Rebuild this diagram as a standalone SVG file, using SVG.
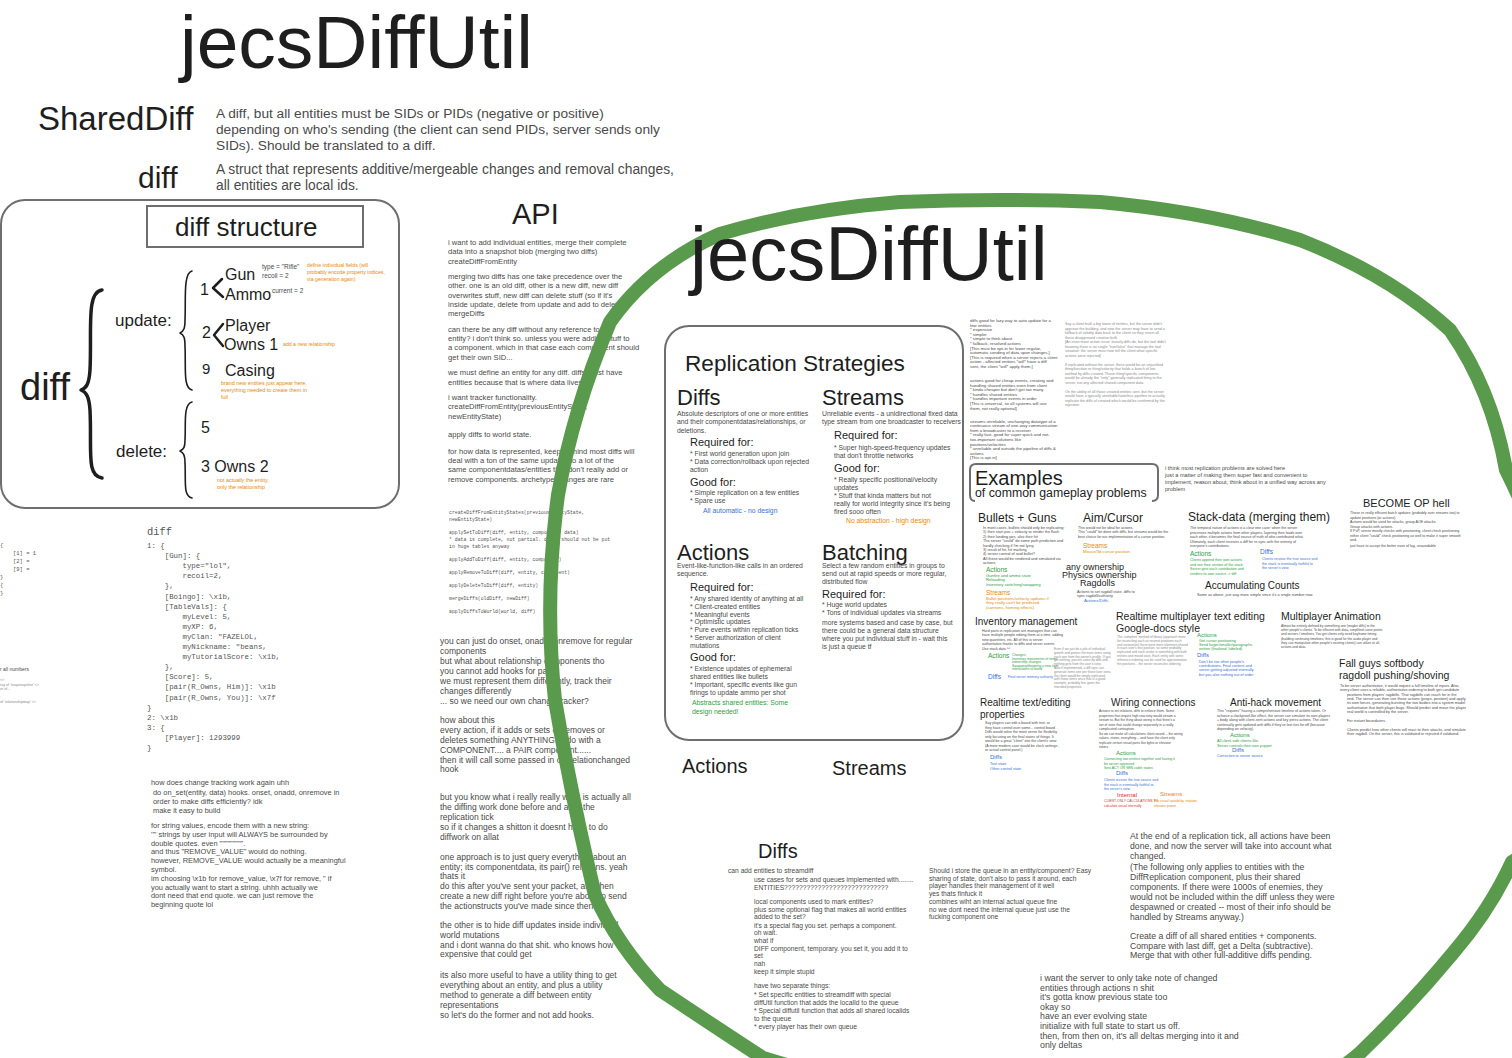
<svg xmlns="http://www.w3.org/2000/svg" width="1512" height="1058" viewBox="0 0 1512 1058">
<style>
text{font-family:"Liberation Sans",Arial,sans-serif;fill:#1e1e1e}
.s{fill:#4a4a4a}
.lt{fill:#8a8a8a}
.m{font-family:"Liberation Mono","DejaVu Sans Mono",monospace;fill:#555}
.or{fill:#e8890c}
.bl{fill:#3b6fd4}
.gr{fill:#2f9e44}
.rd{fill:#d9302c}
.box{fill:none;stroke:#6e6e6e;stroke-width:2}
.br{fill:none;stroke:#1e1e1e;stroke-linecap:round;stroke-linejoin:round}
</style>
<rect width="1512" height="1058" fill="#ffffff"/>

<g id="title">
<text x="180" y="68" font-size="75">jecsDiffUtil</text>
</g>

<g id="definitions">
<text x="38" y="130" font-size="33">SharedDiff</text>
<text x="216" y="118" font-size="13.7" class="s"><tspan x="216">A diff, but all entities must be SIDs or PIDs (negative or positive)</tspan><tspan x="216" dy="16">depending on who's sending (the client can send PIDs, server sends only</tspan><tspan x="216" dy="16">SIDs). Should be translated to a diff.</tspan></text>
<text x="138" y="188" font-size="30">diff</text>
<text x="216" y="174" font-size="13.8" class="s"><tspan x="216">A struct that represents additive/mergeable changes and removal changes,</tspan><tspan x="216" dy="15.5">all entities are local ids.</tspan></text>
</g>

<g id="diff-structure">
<rect x="1" y="200" width="398" height="308" rx="24" class="box"/>
<rect x="147" y="206" width="216" height="41" class="box" stroke-width="1.5"/>
<text x="175" y="236" font-size="26">diff structure</text>
<text x="20" y="400" font-size="38">diff</text>
<path d="M102 290 C86 292 92 330 90 370 C89 385 86 388 81 390 C86 392 89 396 90 410 C92 450 86 476 102 478" class="br" stroke-width="3.5"/>
<text x="115" y="326" font-size="17">update:</text>
<text x="116" y="457" font-size="17">delete:</text>
<path d="M192 271 C183 273 186 300 185 320 C185 328 184 331 180 333 C184 335 185 338 185 346 C186 368 183 388 192 390" class="br" stroke-width="1.6"/>
<path d="M192 402 C183 404 186 425 185 440 C185 447 184 449 180 451 C184 453 185 456 185 463 C186 482 183 496 192 498" class="br" stroke-width="1.6"/>
<text x="200" y="295" font-size="16">1</text>
<path d="M222 279 L213 288 L223 297" class="br" stroke-width="2.5"/>
<text x="225" y="280" font-size="16">Gun</text>
<text x="225" y="300" font-size="16">Ammo</text>
<text x="262" y="269" font-size="6.5" class="s">type = "Rifle"</text>
<text x="262" y="278" font-size="6.5" class="s">recoil = 2</text>
<text x="272" y="293" font-size="6.5" class="s">current = 2</text>
<text x="307" y="267" font-size="5.2" class="or"><tspan x="307">define individual fields (will</tspan><tspan x="307" dy="7">probably encode property indices,</tspan><tspan x="307" dy="7">via generation again)</tspan></text>
<text x="202" y="338" font-size="16">2</text>
<path d="M223 324 L214 335 L223 346" class="br" stroke-width="2.5"/>
<text x="225" y="331" font-size="16">Player</text>
<text x="224" y="350" font-size="16">Owns 1</text>
<text x="283" y="346" font-size="5.2" class="or">add a new relationship</text>
<text x="202" y="374" font-size="15">9</text>
<text x="225" y="376" font-size="16">Casing</text>
<text x="221" y="385" font-size="5.4" class="or"><tspan x="221">brand new entities just appear here,</tspan><tspan x="221" dy="7">everything needed to create them in</tspan><tspan x="221" dy="7">full</tspan></text>
<text x="201" y="433" font-size="16">5</text>
<text x="201" y="472" font-size="16">3 Owns 2</text>
<text x="217" y="482" font-size="5.4" class="or"><tspan x="217">not actually the entity,</tspan><tspan x="217" dy="7">only the relationship</tspan></text>
</g>

<g id="left-fragments">
<text x="0" y="547" font-size="5.5" class="m"><tspan x="0">{</tspan><tspan x="13" dy="8">[1] = 1</tspan><tspan x="13" dy="8">[2] =</tspan><tspan x="13" dy="8">[9] =</tspan><tspan x="0" dy="8">}</tspan><tspan x="0" dy="8">{</tspan><tspan x="0" dy="8">}</tspan></text>
<text x="0" y="671" font-size="5" class="s">r all numbers</text>
<text x="0" y="681" font-size="3.6" class="lt"><tspan x="0">&lt;&gt;</tspan><tspan x="0" dy="4.5">ray of 'snapsnapshot' &lt;&gt;</tspan><tspan x="0" dy="4.5">or of...</tspan><tspan x="0" dy="8">:</tspan><tspan x="0" dy="4.5">of 'relationshipmap' &lt;&gt;</tspan></text>
</g>

<g id="code-diff">
<text x="147" y="535" font-size="10.4" class="m">diff</text>
<text x="147" y="548" font-size="7.4" class="m" xml:space="preserve"><tspan x="147">1: {</tspan><tspan x="147" dy="10.1">    [Gun]: {</tspan><tspan x="147" dy="10.1">        type="lol",</tspan><tspan x="147" dy="10.1">        recoil=2,</tspan><tspan x="147" dy="10.1">    },</tspan><tspan x="147" dy="10.1">    [Boingo]: \x1b,</tspan><tspan x="147" dy="10.1">    [TableVals]: {</tspan><tspan x="147" dy="10.1">        myLevel: 5,</tspan><tspan x="147" dy="10.1">        myXP: 6,</tspan><tspan x="147" dy="10.1">        myClan: "FAZELOL,</tspan><tspan x="147" dy="10.1">        myNickname: "beans,</tspan><tspan x="147" dy="10.1">        myTutorialScore: \x1b,</tspan><tspan x="147" dy="10.1">    },</tspan><tspan x="147" dy="10.1">    [Score]: 5,</tspan><tspan x="147" dy="10.1">    [pair(R_Owns, Him)]: \x1b</tspan><tspan x="147" dy="10.1">    [pair(R_Owns, You)]: \x7f</tspan><tspan x="147" dy="10.1">}</tspan><tspan x="147" dy="10.1">2: \x1b</tspan><tspan x="147" dy="10.1">3: {</tspan><tspan x="147" dy="10.1">    [Player]: 1293999</tspan><tspan x="147" dy="10.1">}</tspan></text>
</g>

<g id="change-tracking-notes">
<text x="151" y="785" font-size="7.4" class="s"><tspan x="151">how does change tracking work again uhh</tspan><tspan x="153" dy="10">do on_set(entity, data) hooks. onset, onadd, onremove in</tspan><tspan x="153" dy="9">order to make diffs efficiently? idk</tspan><tspan x="153" dy="9">make it easy to build</tspan><tspan x="151" dy="15">for string values, encode them with a new string:</tspan><tspan x="151" dy="8.8">'"' strings by user input will ALWAYS be surrounded by</tspan><tspan x="151" dy="8.8">double quotes. even """"""""".</tspan><tspan x="151" dy="8.8">and thus "REMOVE_VALUE" would do nothing.</tspan><tspan x="151" dy="8.8">however,  REMOVE_VALUE would actually be a meaningful</tspan><tspan x="151" dy="8.8">symbol.</tspan><tspan x="151" dy="8.8">im choosing \x1b for remove_value, \x7f for remove, " if</tspan><tspan x="151" dy="8.8">you actually want to start a string. uhhh actually we</tspan><tspan x="151" dy="8.8">dont need that end quote. we can just remove the</tspan><tspan x="151" dy="8.8">beginning quote lol</tspan></text>
</g>

<g id="api">
<text x="512" y="224" font-size="29">API</text>
<text x="448" y="245" font-size="7.6" class="s"><tspan x="448">i want to add individual entities, merge their complete</tspan><tspan x="448" dy="9.3">data into a snapshot blob (merging two diffs)</tspan><tspan x="448" dy="9.3">createDiffFromEntity</tspan><tspan x="448" dy="15.5">merging two diffs has one take precedence over the</tspan><tspan x="448" dy="9.3">other. one is an old diff, other is a new diff, new diff</tspan><tspan x="448" dy="9.3">overwrites stuff, new diff can delete stuff (so if it's</tspan><tspan x="448" dy="9.3">inside update, delete from update and add to delete)</tspan><tspan x="448" dy="9.3">mergeDiffs</tspan><tspan x="448" dy="15.5">can there be any diff without any reference to</tspan><tspan x="448" dy="9.3">entity? i don't think so. unless you were adding stuff to</tspan><tspan x="448" dy="9.3">a component. which in that case each component should</tspan><tspan x="448" dy="9.3">get their own SID...</tspan><tspan x="448" dy="15.5">we must define an entity for any diff. diffs must have</tspan><tspan x="448" dy="9.3">entities because that is where data lives</tspan><tspan x="448" dy="15.5">i want tracker functionality.</tspan><tspan x="448" dy="9.3">createDiffFromEntity(previousEntityState,</tspan><tspan x="448" dy="9.3">newEntityState)</tspan><tspan x="448" dy="18">apply diffs to world state.</tspan><tspan x="448" dy="17">for how data is represented, keep in mind most diffs will</tspan><tspan x="448" dy="9.3">deal with a ton of the same updates to a lot of the</tspan><tspan x="448" dy="9.3">same componentdatas/entities that don't really add or</tspan><tspan x="448" dy="9.3">remove components. archetype changes are rare</tspan></text>
<text x="449" y="514" font-size="4.8" class="m"><tspan x="449">createDiffFromEntityStates(previousEntityState,</tspan><tspan x="449" dy="7">newEntityState)</tspan><tspan x="449" dy="13">applySetToDiff(diff, entity, component, data)</tspan><tspan x="449" dy="7">* data is complete, not partial. diffs should not be put</tspan><tspan x="449" dy="7">in huge tables anyway</tspan><tspan x="449" dy="12.5">applyAddToDiff(diff, entity, component)</tspan><tspan x="449" dy="13.5">applyRemoveToDiff(diff, entity, component)</tspan><tspan x="449" dy="13">applyDeleteToDiff(diff, entity)</tspan><tspan x="449" dy="13">mergeDiffs(oldDiff, newDiff)</tspan><tspan x="449" dy="13">applyDiffsToWorld(world, diff)</tspan></text>
<text x="440" y="644" font-size="8.5" class="s"><tspan x="440">you can just do onset, onadd, onremove for regular</tspan><tspan x="440" dy="10">components</tspan><tspan x="440" dy="9.5">but what about relationship components tho</tspan><tspan x="440" dy="10">you cannot add hooks for pairs</tspan><tspan x="440" dy="10">we must represent them differently, track their</tspan><tspan x="440" dy="10">changes differently</tspan><tspan x="440" dy="10">... so we need our own change tracker?</tspan><tspan x="440" dy="19">how about this</tspan><tspan x="440" dy="10">every action, if it adds or sets or removes or</tspan><tspan x="440" dy="10">deletes something ANYTHING to do with a</tspan><tspan x="440" dy="10">COMPONENT.... a PAIR component......</tspan><tspan x="440" dy="10">then it will call some passed in onRelationchanged</tspan><tspan x="440" dy="9">hook</tspan></text>
<text x="440" y="800" font-size="8.5" class="s"><tspan x="440">but you know what i really really want is actually all</tspan><tspan x="440" dy="10">the diffing work done before and after the</tspan><tspan x="440" dy="10">replication tick</tspan><tspan x="440" dy="9.5">so if it changes a shitton it doesnt have to do</tspan><tspan x="440" dy="10">diffwork on allat</tspan><tspan x="440" dy="20.5">one approach is to just query everything about an</tspan><tspan x="440" dy="9.5">entity; its componentdata, its pair() relations. yeah</tspan><tspan x="440" dy="9.5">thats it</tspan><tspan x="440" dy="10">do this after you've sent your packet, and then</tspan><tspan x="440" dy="10">create a new diff right before you're about to send</tspan><tspan x="440" dy="10">the actionstructs you've made since then</tspan><tspan x="440" dy="19">the other is to hide diff updates inside individual</tspan><tspan x="440" dy="9.5">world mutations</tspan><tspan x="440" dy="10">and i dont wanna do that shit. who knows how</tspan><tspan x="440" dy="9.5">expensive that could get</tspan><tspan x="440" dy="21">its also more useful to have a utility thing to get</tspan><tspan x="440" dy="9.5">everything about an entity, and plus a utility</tspan><tspan x="440" dy="10">method to generate a diff between entity</tspan><tspan x="440" dy="10">representations</tspan><tspan x="440" dy="10">so let's do the former and not add hooks.</tspan></text>
</g>

<g id="big-circle">
<path d="M1010 1112 Q850 1085 763 1058 Q720 1030 660 990 Q617 945 595 895 Q572 800 555 700 Q544 600 558 495 Q573 410 610 322 Q650 265 720 234 Q800 210 900 202 Q1000 198 1100 202 Q1210 212 1300 240 Q1390 275 1450 330 Q1492 390 1506 470 Q1580 620 1580 720 Q1580 820 1512 862 Q1490 910 1453 953 Q1410 1005 1360 1053 Q1300 1105 1200 1120 Z" fill="none" stroke="#5a9a4c" stroke-width="14" stroke-linejoin="round"/>
</g>

<g id="title-2">
<text x="690" y="280" font-size="76">jecsDiffUtil</text>
</g>

<g id="replication-strategies">
<rect x="665" y="326" width="298" height="414" rx="24" class="box"/>
<text x="685" y="371" font-size="22.6">Replication Strategies</text>
<text x="677" y="405" font-size="22">Diffs</text>
<text x="677" y="416" font-size="6.8" class="s"><tspan x="677">Absolute descriptors of one or more entities</tspan><tspan x="677" dy="8.3">and their componentdatas/relationships, or</tspan><tspan x="677" dy="8.3">deletions.</tspan></text>
<text x="690" y="446" font-size="11">Required for:</text>
<text x="690" y="456" font-size="6.8" class="s"><tspan x="690">* First world generation upon join</tspan><tspan x="690" dy="8">* Data correction/rollback upon rejected</tspan><tspan x="690" dy="8">action</tspan></text>
<text x="690" y="486" font-size="11">Good for:</text>
<text x="690" y="495" font-size="6.8" class="s"><tspan x="690">* Simple replication on a few entities</tspan><tspan x="690" dy="8">* Spare use</tspan></text>
<text x="703" y="513" font-size="6.8" class="bl">All automatic - no design</text>
<text x="822" y="405" font-size="22">Streams</text>
<text x="822" y="416" font-size="6.8" class="s"><tspan x="822">Unreliable events - a unidirectional fixed data</tspan><tspan x="822" dy="8.3">type stream from one broadcaster to receivers</tspan></text>
<text x="834" y="439" font-size="11">Required for:</text>
<text x="834" y="450" font-size="6.8" class="s"><tspan x="834">* Super high-speed-frequency updates</tspan><tspan x="834" dy="8">that don't throttle networks</tspan></text>
<text x="834" y="472" font-size="11">Good for:</text>
<text x="834" y="482" font-size="6.8" class="s"><tspan x="834">* Really specific positional/velocity</tspan><tspan x="834" dy="8">updates</tspan><tspan x="834" dy="7.5">* Stuff that kinda matters but not</tspan><tspan x="834" dy="8">really for world integrity since it's being</tspan><tspan x="834" dy="8">fired sooo often</tspan></text>
<text x="846" y="523" font-size="6.8" class="or">No abstraction - high design</text>
<text x="677" y="560" font-size="22">Actions</text>
<text x="677" y="568" font-size="6.8" class="s"><tspan x="677">Event-like-function-like calls in an ordered</tspan><tspan x="677" dy="8">sequence.</tspan></text>
<text x="690" y="591" font-size="11">Required for:</text>
<text x="690" y="601" font-size="6.8" class="s"><tspan x="690">* Any shared identity of anything at all</tspan><tspan x="690" dy="7.8">* Client-created entities</tspan><tspan x="690" dy="7.8">* Meaningful events</tspan><tspan x="690" dy="7.8">* Optimistic updates</tspan><tspan x="690" dy="7.8">* Pure events within replication ticks</tspan><tspan x="690" dy="7.8">* Server authorization of client</tspan><tspan x="690" dy="7.8">mutations</tspan></text>
<text x="690" y="661" font-size="11">Good for:</text>
<text x="690" y="671" font-size="6.8" class="s"><tspan x="690">* Existence updates of ephemeral</tspan><tspan x="690" dy="8">shared entities like bullets</tspan><tspan x="690" dy="8">* Important, specific events like gun</tspan><tspan x="690" dy="8">firings to update ammo per shot</tspan></text>
<text x="692" y="705" font-size="6.8" class="gr"><tspan x="692">Abstracts shared entities: Some</tspan><tspan x="692" dy="8.5">design needed!</tspan></text>
<text x="822" y="560" font-size="22">Batching</text>
<text x="822" y="568" font-size="6.8" class="s"><tspan x="822">Select a few random entities in groups to</tspan><tspan x="822" dy="8">send out at rapid speeds or more regular,</tspan><tspan x="822" dy="8">distributed flow</tspan></text>
<text x="822" y="598" font-size="11">Required for:</text>
<text x="822" y="607" font-size="6.8" class="s"><tspan x="822">* Huge world updates</tspan><tspan x="822" dy="8">* Tons of individual updates via streams</tspan><tspan x="822" dy="10">more systems based and case by case, but</tspan><tspan x="822" dy="8">there could be a general data structure</tspan><tspan x="822" dy="8">where you put individual stuff in - wait this</tspan><tspan x="822" dy="8">is just a queue tf</tspan></text>
</g>

<g id="below-box">
<text x="682" y="773" font-size="20">Actions</text>
<text x="832" y="775" font-size="20">Streams</text>
</g>

<g id="strategy-notes">
<text x="970" y="322" font-size="4.3" class="s"><tspan x="970">diffs good for lazy way to auto update for a</tspan><tspan x="970" dy="4.6">few entities</tspan><tspan x="970" dy="4.6">* expensive</tspan><tspan x="970" dy="4.6">* simpler</tspan><tspan x="970" dy="4.6">* simple to think about</tspan><tspan x="970" dy="4.6">* fallback, resolved actions</tspan><tspan x="970" dy="4.6">[This must be opt-in for lower regular,</tspan><tspan x="970" dy="4.6">automatic sending of data upon changes.]</tspan><tspan x="970" dy="4.6">[This is required when a server rejects a client</tspan><tspan x="970" dy="4.6">action - affected entities *will* have a diff</tspan><tspan x="970" dy="4.6">sent, the client *will* apply them.]</tspan><tspan x="970" dy="14">actions good for cheap events, creating and</tspan><tspan x="970" dy="4.6">handling shared entities even from client</tspan><tspan x="970" dy="4.6">* kinda cheaper but don't get too many</tspan><tspan x="970" dy="4.6">* handles shared entities</tspan><tspan x="970" dy="4.6">* handles important events in order</tspan><tspan x="970" dy="4.6">[This is universal, so all systems will use</tspan><tspan x="970" dy="4.6">them, not really optional]</tspan><tspan x="970" dy="13">streams unreliable, unchanging datatype of a</tspan><tspan x="970" dy="4.6">continuous stream of one-way communication</tspan><tspan x="970" dy="4.6">from a broadcaster to a receiver</tspan><tspan x="970" dy="4.6">* really fast, good for super quick and not-</tspan><tspan x="970" dy="4.6">too-important solutions like</tspan><tspan x="970" dy="4.6">positions/velocities</tspan><tspan x="970" dy="4.6">* unreliable and outside the pipeline of diffs &amp;</tspan><tspan x="970" dy="4.6">actions</tspan><tspan x="970" dy="4.6">[This is opt-in]</tspan></text>
<text x="1065" y="325" font-size="3.7" class="lt"><tspan x="1065">Say a client built a big tower of entities, but the server didn't</tspan><tspan x="1065" dy="4.5">approve the building, and now the server may have to send a</tspan><tspan x="1065" dy="4.5">fallback of validity data back to the client so they revert all</tspan><tspan x="1065" dy="4.5">those disapproved creation bulk</tspan><tspan x="1065" dy="4.5">[An even more action issue: loosely diffs do, but the tool didn't</tspan><tspan x="1065" dy="4.5">knowing there is no single "true/false" that manage the tool</tspan><tspan x="1065" dy="4.5">situation: the server must now tell the client what specific</tspan><tspan x="1065" dy="4.5">actions were rejected]</tspan><tspan x="1065" dy="9">If replicated without the server, there would be an unjustified</tspan><tspan x="1065" dy="4.5">thing/function or thing/velocity that holds a bunch of lots</tspan><tspan x="1065" dy="4.5">notified by diffs created. Those thing/specific components</tspan><tspan x="1065" dy="4.5">would be already the "only" generally replicated thing to the</tspan><tspan x="1065" dy="4.5">server, not any affected shared component data.</tspan><tspan x="1065" dy="9">On the ability of all those created entities sent, but the server</tspan><tspan x="1065" dy="4.5">would have a typically unreliable/stateless pipeline to actually</tspan><tspan x="1065" dy="4.5">replicate the diffs of created which would be confirmed by the</tspan><tspan x="1065" dy="4.5">rejection.</tspan></text>
</g>

<g id="examples">
<path d="M975 501 Q970 501 970 495 L970 470 Q970 464 976 464 L1152 464 Q1158 464 1158 470 L1158 495 Q1158 501 1152 501" class="box" stroke="#1e1e1e" stroke-width="1.5"/>
<text x="975" y="485" font-size="20">Examples</text>
<text x="975" y="497" font-size="12.3">of common gameplay problems</text>
<text x="1165" y="470" font-size="5.6" class="s"><tspan x="1165">i think most replication problems are solved here</tspan><tspan x="1165" dy="7">just a matter of making them super fast and convenient to</tspan><tspan x="1165" dy="7">implement, reason about, think about in a unified way across any</tspan><tspan x="1165" dy="7">problem</tspan></text>
</g>

<g id="bullets-guns">
<text x="978" y="522" font-size="12">Bullets + Guns</text>
<text x="983" y="529" font-size="3.8" class="s"><tspan x="983">In most cases, bullets should only be replicating:</tspan><tspan x="983" dy="4.4">1) their start pos + velocity to render the flash</tspan><tspan x="983" dy="4.4">2) their landing pos, also their hit</tspan><tspan x="983" dy="4.4">The server *could* do some path prediction and</tspan><tspan x="983" dy="4.4">hardly checking if I'm not lying</tspan><tspan x="983" dy="4.4">3) result of hit, hit marking</tspan><tspan x="983" dy="4.4">4) server control of said bullet?</tspan><tspan x="983" dy="4.4">All these would be rendered and simulated via</tspan><tspan x="983" dy="4.4">actions.</tspan></text>
<text x="986" y="572" font-size="6.5" class="gr">Actions</text>
<text x="986" y="577" font-size="4.2" class="gr"><tspan x="986">Gunfire and ammo state</tspan><tspan x="986" dy="4.4">Reloading</tspan><tspan x="986" dy="4.4">Inventory switching/swapping</tspan></text>
<text x="986" y="595" font-size="6.5" class="or">Streams</text>
<text x="986" y="600" font-size="4.2" class="or"><tspan x="986">Bullet positions/velocity updates if</tspan><tspan x="986" dy="4.4">they really can't be predicted</tspan><tspan x="986" dy="4.4">(cannons, homing effects)</tspan></text>
</g>

<g id="aim-cursor">
<text x="1083" y="522" font-size="12">Aim/Cursor</text>
<text x="1078" y="529" font-size="3.6" class="s"><tspan x="1078">This would not be ideal for actions.</tspan><tspan x="1078" dy="4.4">This *could* be done with diffs, but streams would be the</tspan><tspan x="1078" dy="4.4">best choice for our implementation of a cursor position.</tspan></text>
<text x="1083" y="548" font-size="6.5" class="or">Streams</text>
<text x="1083" y="553" font-size="4.2" class="or">Mouse/3d cursor position</text>
</g>

<g id="ownership">
<text x="1066" y="570" font-size="9">any ownership</text>
<text x="1062" y="578" font-size="9">Physics ownership</text>
<text x="1080" y="586" font-size="9">Ragdolls</text>
<text x="1077" y="593" font-size="3.8" class="s"><tspan x="1077">Actions to set ragdoll state, diffs to</tspan><tspan x="1077" dy="4.2">sync ragdoll/authority</tspan></text>
<text x="1084" y="602" font-size="4.4" class="bl">Actions/Diffs</text>
</g>

<g id="stack-data">
<text x="1188" y="521" font-size="12">Stack-data (merging them)</text>
<text x="1190" y="529" font-size="3.6" class="s"><tspan x="1190">The temporal nature of actions is a clear one case: when the server</tspan><tspan x="1190" dy="4.5">processes multiple actions from other players, layering their loads over</tspan><tspan x="1190" dy="4.5">each other, it becomes the final source of truth of who contributed what.</tspan><tspan x="1190" dy="4.5">Ultimately, each client receives a diff for re-sync with the entirety of</tspan><tspan x="1190" dy="4.5">everyone's contributions.</tspan></text>
<text x="1190" y="556" font-size="6.5" class="gr">Actions</text>
<text x="1190" y="561" font-size="3.6" class="gr"><tspan x="1190">Clients append their own actions</tspan><tspan x="1190" dy="4.5">and see their version of the stack</tspan><tspan x="1190" dy="4.5">Server gets each contribution and</tspan><tspan x="1190" dy="4.5">renders its own source -&gt; diff</tspan></text>
<text x="1260" y="554" font-size="6.5" class="bl">Diffs</text>
<text x="1262" y="560" font-size="3.6" class="bl"><tspan x="1262">Clients receive the true source and</tspan><tspan x="1262" dy="4.5">the stack is eventually faithful to</tspan><tspan x="1262" dy="4.5">the server's view</tspan></text>
<text x="1205" y="589" font-size="10">Accumulating Counts</text>
<text x="1197" y="596" font-size="3.8" class="s">Same as above, just way more simple since it's a single number now</text>
</g>

<g id="become-op">
<text x="1363" y="507" font-size="11">BECOME OP hell</text>
<text x="1350" y="514" font-size="3.6" class="s"><tspan x="1350">These re really efficient batch updates (probably over streams too) to</tspan><tspan x="1350" dy="4.5">update positions (or actions).</tspan><tspan x="1350" dy="4.5">Actions would be used for attacks, group AOE attacks.</tspan><tspan x="1350" dy="4.5">Group attacks with actions.</tspan><tspan x="1350" dy="4.5">If PvP, server mostly checks with positioning, client check positioning</tspan><tspan x="1350" dy="4.5">either client *could* check positioning as well to make it super smooth</tspan><tspan x="1350" dy="4.5">and.</tspan><tspan x="1350" dy="6">just have to accept the better ease of lag, unavoidable</tspan></text>
</g>

<g id="inventory">
<text x="975" y="625" font-size="10">Inventory management</text>
<text x="982" y="632" font-size="3.6" class="s"><tspan x="982">Hard parts in replication are managers that can</tspan><tspan x="982" dy="4.4">have multiple people editing them at a time, adding</tspan><tspan x="982" dy="4.4">new quantities, etc. All of this is server</tspan><tspan x="982" dy="4.4">authoritative thanks to diffs and server events</tspan><tspan x="982" dy="4.4">Use stack data ^^</tspan></text>
<text x="988" y="658" font-size="6.5" class="gr">Actions</text>
<text x="1012" y="656" font-size="3.4" class="gr"><tspan x="1012">Changes</tspan><tspan x="1012" dy="3.6">Inventory movements of items</tspan><tspan x="1012" dy="3.6">ownership changes</tspan><tspan x="1012" dy="3.6">Swapping/dropping a new item</tspan><tspan x="1012" dy="3.6">interactions to world</tspan></text>
<text x="1054" y="650" font-size="3.2" class="lt"><tspan x="1054">Even if we just do a pile of individual</tspan><tspan x="1054" dy="3.8">growth and protect the main items using</tspan><tspan x="1054" dy="3.8">each one from the owner's profile. If you</tspan><tspan x="1054" dy="3.8">get nothing, parcels come by diffs and</tspan><tspan x="1054" dy="3.8">nothing gets from the user's view.</tspan><tspan x="1054" dy="3.8">Also if implemented, a diff sync can</tspan><tspan x="1054" dy="3.8">generate items one per those later ones,</tspan><tspan x="1054" dy="3.8">the client would be simply replicated</tspan><tspan x="1054" dy="3.8">with those items since that is a good</tspan><tspan x="1054" dy="3.8">example, probably fine given the</tspan><tspan x="1054" dy="3.8">intended properties.</tspan></text>
<text x="988" y="679" font-size="6.5" class="bl">Diffs</text>
<text x="1008" y="678" font-size="3.4" class="bl">Final server memory authority</text>
</g>

<g id="realtime-text">
<text x="1116" y="620" font-size="10.5">Realtime multiplayer text editing</text>
<text x="1116" y="632" font-size="10.5">Google-docs style</text>
<text x="1117" y="638" font-size="3.2" class="lt"><tspan x="1117">The 'complete' method of library (approach more</tspan><tspan x="1117" dy="3.8">for reconciling such as nearest positions each</tspan><tspan x="1117" dy="3.8">and restoration) there were more elements shared</tspan><tspan x="1117" dy="3.8">in each user's text position, so some probably</tspan><tspan x="1117" dy="3.8">replicated and each stroke is something with both</tspan><tspan x="1117" dy="3.8">entities and mixed state. Each entity with some</tspan><tspan x="1117" dy="3.8">reference ordering can be used for approximation</tspan><tspan x="1117" dy="3.8">the positions... the server reconciles ordering.</tspan></text>
<text x="1197" y="637" font-size="6" class="gr">Actions</text>
<text x="1199" y="642" font-size="3.8" class="gr"><tspan x="1199">Get cursor positioning</tspan><tspan x="1199" dy="4.2">Send larger/smaller/paragraphs</tspan><tspan x="1199" dy="4.2">written (finalized, labeled)</tspan></text>
<text x="1197" y="657" font-size="6" class="bl">Diffs</text>
<text x="1199" y="663" font-size="3.8" class="bl"><tspan x="1199">Don't be too often people's</tspan><tspan x="1199" dy="4.2">contributions. Final content and</tspan><tspan x="1199" dy="4.2">server getting adjusted internally</tspan><tspan x="1199" dy="4.2">but you also nothing out of order</tspan></text>
</g>

<g id="multiplayer-animation">
<text x="1281" y="620" font-size="10.5">Multiplayer Animation</text>
<text x="1281" y="627" font-size="3.3" class="s"><tspan x="1281">Almost be entirely defined by something one (maybe diffs) to the</tspan><tspan x="1281" dy="4.2">other people's clients. To be efficient with data, simplified curve points</tspan><tspan x="1281" dy="4.2">and sectors / timelines. You get clients only need keyframe timing</tspan><tspan x="1281" dy="4.2">(building continuing timelines, this is good for the audio player and</tspan><tspan x="1281" dy="4.2">they can manipulate other people's existing clients) can utilize at all,</tspan><tspan x="1281" dy="4.2">actions and data.</tspan></text>
</g>

<g id="fall-guys">
<text x="1339" y="667" font-size="10.5">Fall guys softbody</text>
<text x="1339" y="679" font-size="10.5">ragdoll pushing/shoving</text>
<text x="1340" y="687" font-size="3.8" class="s"><tspan x="1340">To be server authoritative, it would require a full timeline of inputs. Also,</tspan><tspan x="1340" dy="4.3">every client uses a reliable, authoritative ordering to both get candidate</tspan><tspan x="1347" dy="4.3">positions from players' ragdolls. That ragdolls can reach for in the</tspan><tspan x="1347" dy="4.3">end. The server can then use those actions (props, position) and apply</tspan><tspan x="1347" dy="4.3">its own forces, generating bursting the two bodies into a system model</tspan><tspan x="1347" dy="4.3">authoritative that both player bugs. Should predict and move the player</tspan><tspan x="1347" dy="4.3">real world is controlled by the server.</tspan><tspan x="1347" dy="9">For instant boundaries.</tspan><tspan x="1347" dy="9">Clients predict how other clients will react to their attacks, and simulate</tspan><tspan x="1347" dy="4.3">their ragdoll. On the server, this is validated or rejected if validated.</tspan></text>
</g>

<g id="realtime-properties">
<text x="980" y="706" font-size="10">Realtime text/editing</text>
<text x="980" y="718" font-size="10">properties</text>
<text x="985" y="724" font-size="3.6" class="s"><tspan x="985">Say players can edit a board with text, or</tspan><tspan x="985" dy="4.5">they have control over some... control board</tspan><tspan x="985" dy="4.5">Diffs would solve the most sense for flexibility</tspan><tspan x="985" dy="4.5">only focusing on the final states of things. It</tspan><tspan x="985" dy="4.5">would be a great "client" into the client's view</tspan><tspan x="985" dy="4.5">(A more modern case would be clock settings -</tspan><tspan x="985" dy="4.5">or actual control panel.)</tspan></text>
<text x="990" y="759" font-size="6" class="bl">Diffs</text>
<text x="990" y="765" font-size="3.8" class="bl"><tspan x="990">Text state</tspan><tspan x="990" dy="4.5">Other control state</tspan></text>
</g>

<g id="wiring">
<text x="1111" y="706" font-size="10">Wiring connections</text>
<text x="1099" y="712" font-size="3.3" class="s"><tspan x="1099">Actions to set relations, diffs to enforce them. Some</tspan><tspan x="1099" dy="4.5">properties that require high reactivity would stream a</tspan><tspan x="1099" dy="4.5">stream to. But the thing about wiring is that there's a</tspan><tspan x="1099" dy="4.5">ton of state that could change separately in a really</tspan><tspan x="1099" dy="4.5">complicated contraption.</tspan><tspan x="1099" dy="4.5">So we can make all calculations client-sound -- the wiring</tspan><tspan x="1099" dy="4.5">values, states, everything -- and have the client only</tspan><tspan x="1099" dy="4.5">replicate certain visual parts like lights or elevator</tspan><tspan x="1099" dy="4.5">states.</tspan></text>
<text x="1116" y="755" font-size="6" class="gr">Actions</text>
<text x="1104" y="760" font-size="3.5" class="gr"><tspan x="1104">Connecting two entities together and having it</tspan><tspan x="1104" dy="4.5">be server approved</tspan><tspan x="1104" dy="4.5">Sets ACT OR SEN cable states</tspan></text>
<text x="1116" y="775" font-size="6" class="bl">Diffs</text>
<text x="1104" y="781" font-size="3.5" class="bl"><tspan x="1104">Clients receive the true source and</tspan><tspan x="1104" dy="4.5">the stack is eventually faithful to</tspan><tspan x="1104" dy="4.5">the server's view</tspan></text>
<text x="1117" y="797" font-size="6" class="rd">Internal</text>
<text x="1104" y="802" font-size="3.4" class="rd"><tspan x="1104">CLIENT-ONLY CALCULATIONS TO</tspan><tspan x="1104" dy="4.5">calculate visual internally</tspan></text>
<text x="1160" y="796" font-size="6" class="or">Streams</text>
<text x="1154" y="802" font-size="3.4" class="or"><tspan x="1154">For visual variability, rotation,</tspan><tspan x="1154" dy="4.5">elevator power</tspan></text>
</g>

<g id="anti-hack">
<text x="1230" y="706" font-size="10">Anti-hack movement</text>
<text x="1217" y="712" font-size="3.6" class="s"><tspan x="1217">This *requires* having a comprehensive timeline of actions taken. Or</tspan><tspan x="1217" dy="4.5">achieve a clockproof-like effect, the server can simulate its own players</tspan><tspan x="1217" dy="4.5">+ body along with client-sent actions and key press actions. The client</tspan><tspan x="1217" dy="4.5">continually gets updated with diffs if they've lost ties for off (because</tspan><tspan x="1217" dy="4.5">depending on velocity).</tspan></text>
<text x="1230" y="737" font-size="6" class="gr">Actions</text>
<text x="1217" y="742" font-size="3.8" class="gr"><tspan x="1217">All client-side clients-like</tspan><tspan x="1217" dy="4.5">Server controls their own puppet</tspan></text>
<text x="1232" y="752" font-size="6" class="bl">Diffs</text>
<text x="1217" y="757" font-size="3.8" class="bl">Correction to server source</text>
</g>

<g id="diffs-notes">
<text x="758" y="858" font-size="20">Diffs</text>
<text x="728" y="873" font-size="6.7" class="s"><tspan x="728">can add entities to streamdiff</tspan><tspan x="754" dy="9">use cases for sets and queues implemented with........</tspan><tspan x="754" dy="7.5">ENTITIES????????????????????????????</tspan><tspan x="754" dy="14.5">local components used to mark entities?</tspan><tspan x="754" dy="7.8">plus some optional flag that makes all world entities</tspan><tspan x="754" dy="7.5">added to the set?</tspan><tspan x="754" dy="8.5">it's a special flag you set. perhaps a component.</tspan><tspan x="754" dy="7.5">oh wait.</tspan><tspan x="754" dy="7.8">what if</tspan><tspan x="754" dy="7.8">DIFF component, temporary. you set it, you add it to</tspan><tspan x="754" dy="7.5">set</tspan><tspan x="754" dy="7.5">nah</tspan><tspan x="754" dy="7.8">keep it simple stupid</tspan><tspan x="754" dy="14">have two separate things:</tspan><tspan x="754" dy="9">* Set specific entities to streamdiff with special</tspan><tspan x="754" dy="8.5">diffUtil function that adds the localId to the queue</tspan><tspan x="754" dy="8">* Special diffutil function that adds all shared localids</tspan><tspan x="754" dy="8">to the queue</tspan><tspan x="754" dy="8">* every player has their own queue</tspan></text>
<text x="929" y="873" font-size="6.7" class="s"><tspan x="929">Should i store the queue in an entity/component? Easy</tspan><tspan x="929" dy="7.7">sharing of state, don't also to pass it around, each</tspan><tspan x="929" dy="7.7">player handles their management of it well</tspan><tspan x="929" dy="7.7">yes thats finfuck it</tspan><tspan x="929" dy="7.7">combines wiht an internal actual queue fine</tspan><tspan x="929" dy="7.7">no we dont need the internal queue just use the</tspan><tspan x="929" dy="7.7">fucking component one</tspan></text>
</g>

<g id="server-notes">
<text x="1130" y="839" font-size="8.7" class="s"><tspan x="1130">At the end of a replication tick, all actions have been</tspan><tspan x="1130" dy="10">done, and now the server will take into account what</tspan><tspan x="1130" dy="10">changed.</tspan><tspan x="1130" dy="10.5">(The following only applies to entities with the</tspan><tspan x="1130" dy="10">DiffReplication component, plus their shared</tspan><tspan x="1130" dy="10.3">components. If there were 1000s of enemies, they</tspan><tspan x="1130" dy="10.2">would not be included within the diff unless they were</tspan><tspan x="1130" dy="10">despawned or created -- most of their info should be</tspan><tspan x="1130" dy="10">handled by Streams anyway.)</tspan><tspan x="1130" dy="19">Create a diff of all shared entities + components.</tspan><tspan x="1130" dy="9.8">Compare with last diff, get a Delta (subtractive).</tspan><tspan x="1130" dy="9.5">Merge that with other full-additive diffs pending.</tspan></text>
<text x="1040" y="981" font-size="8.8" class="s"><tspan x="1040">i want the server to only take note of changed</tspan><tspan x="1040" dy="9.6">entities through actions n shit</tspan><tspan x="1040" dy="9.6">it's gotta know previous state too</tspan><tspan x="1040" dy="9.6">okay so</tspan><tspan x="1040" dy="9.6">have an ever evolving state</tspan><tspan x="1040" dy="9.6">initialize with full state to start us off.</tspan><tspan x="1040" dy="9.6">then, from then on, it's all deltas merging into it and</tspan><tspan x="1040" dy="9.6">only deltas</tspan></text>
</g>
</svg>
